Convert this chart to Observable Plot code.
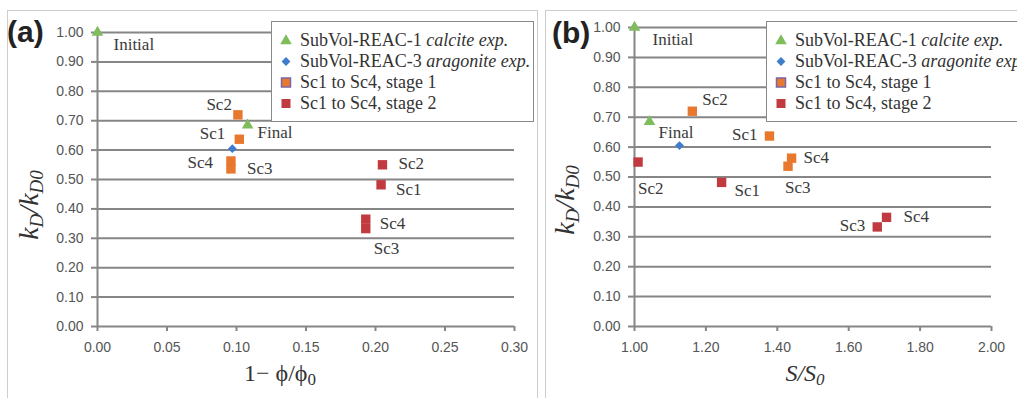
<!DOCTYPE html>
<html>
<head>
<meta charset="utf-8">
<script src="https://cdn.jsdelivr.net/npm/d3@7"></script>
<script src="https://cdn.jsdelivr.net/npm/@observablehq/plot@0.6"></script>
<style>
  body { margin: 0; background: #fff; }
  #chart { position: relative; width: 1017px; height: 398px; overflow: hidden; }
  .frame { position: absolute; border: 1.5px solid #cdcdcd; box-sizing: border-box; }
  .plot-holder { position: absolute; top: 0; }
  .legend {
    position: absolute; background: #fff; border: 1.5px solid #8a8a8a; box-sizing: border-box;
    font-family: "Liberation Serif", "Times New Roman", serif; font-size: 18px; color: #333;
    padding-top: 8px;
  }
  .legend .row { display: flex; align-items: center; height: 21px; white-space: nowrap; }
  .legend .row svg { flex: none; }
</style>
</head>
<body>
<div id="chart">
  <div class="frame" style="left:7px;top:10px;width:531px;height:400px"></div>
  <div class="frame" style="left:545px;top:10px;width:480px;height:400px"></div>
  <div class="plot-holder" id="panelA" style="left:0px"></div>
  <div class="plot-holder" id="panelB" style="left:545px"></div>
</div>
<script>
// Rate constant ratio kD/kD0 for the four scenarios, two stages each
const scenarios = ["Sc1", "Sc2", "Sc3", "Sc4"];
const stage1Kd = [0.637, 0.720, 0.536, 0.563];
const stage2Kd = [0.482, 0.550, 0.333, 0.365];
// 1 − φ/φ0 (porosity reduction)
const stage1Porosity = [0.102, 0.101, 0.096, 0.096];
const stage2Porosity = [0.204, 0.205, 0.193, 0.193];
// S/S0 (specific surface ratio)
const stage1Surface = [1.378, 1.162, 1.430, 1.440];
const stage2Surface = [1.244, 1.010, 1.680, 1.706];

// Experiments
const calciteStates = ["Initial", "Final"];
const calciteKd = [1.00, 0.685];
const calcitePorosity = [0.000, 0.108];
const calciteSurface = [1.000, 1.042];
const aragoniteKd = [0.605];
const aragonitePorosity = [0.097];
const aragoniteSurface = [1.126];

// Axis ticks
const yTicks = [0, 0.1, 0.2, 0.3, 0.4, 0.5, 0.6, 0.7, 0.8, 0.9, 1.0];
const xTicksA = [0, 0.05, 0.10, 0.15, 0.20, 0.25, 0.30];
const xTicksB = [1.0, 1.2, 1.4, 1.6, 1.8, 2.0];

// Legend entries
const legendItems = [
  {key: "calcite", name: "SubVol-REAC-1 ", note: "calcite exp."},
  {key: "aragonite", name: "SubVol-REAC-3 ", note: "aragonite exp."},
  {key: "stage1", name: "Sc1 to Sc4, stage 1", note: ""},
  {key: "stage2", name: "Sc1 to Sc4, stage 2", note: ""}
];

const colors = {calcite: "#7fbd5c", aragonite: "#3f7dcb", stage1: "#e9782f", stage2: "#c13a40"};
const gridColor = "#868686";
const labelColor = "#3a3a3a";
const serif = "Liberation Serif, Times New Roman, serif";

// Annotation offsets: [textAnchor, dx, dy] in order of the data rows
const placement = {
  a: {
    calcite: [["start", 16, 12], ["start", 10, 7]],
    stage1: [["end", -14, -6], ["end", -6, -10], ["start", 16, 0], ["end", -18, 2]],
    stage2: [["start", 15, 5], ["start", 16, -1], ["start", 8, 20], ["start", 14, 4]]
  },
  b: {
    calcite: [["start", 18, 12], ["start", 9, 11]],
    stage1: [["end", -12, -1], ["start", 10, -12], ["start", -3, 21], ["start", 12, -1]],
    stage2: [["start", 13, 8], ["start", 0, 26], ["end", -12, -1], ["start", 17, -1]]
  }
};

function rows(xs, ys, names) {
  return ys.map((y, i) => ({x: xs[i], y, name: names[i]}));
}

function buildPanel(cfg) {
  const calcite = rows(cfg.calciteX, calciteKd, calciteStates);
  const aragonite = rows(cfg.aragoniteX, aragoniteKd, ["Final"]);
  const stage1 = rows(cfg.stage1X, stage1Kd, scenarios);
  const stage2 = rows(cfg.stage2X, stage2Kd, scenarios);

  const labelMarks = [];
  const addLabels = (data, spots) => data.forEach((d, i) => {
    const [anchor, dx, dy] = spots[i];
    labelMarks.push(Plot.text([d], {
      x: "x", y: "y", text: "name", textAnchor: anchor, dx, dy,
      fill: labelColor, fontSize: 17, fontFamily: serif
    }));
  });
  addLabels(calcite, cfg.place.calcite);
  addLabels(stage1, cfg.place.stage1);
  addLabels(stage2, cfg.place.stage2);

  const fmt = d3.format(".2f");
  const plot = Plot.plot({
    width: cfg.width,
    height: 398,
    marginLeft: cfg.marginLeft,
    marginRight: cfg.marginRight,
    marginTop: cfg.marginTop,
    marginBottom: 72,
    x: {domain: cfg.xDomain, nice: false},
    y: {domain: [0, 1], nice: false},
    style: {background: "none", fontFamily: "Liberation Sans, Arial, sans-serif", fontSize: "14px", color: "#555", overflow: "visible"},
    marks: [
      Plot.ruleY(yTicks, {stroke: gridColor, strokeWidth: 2}),
      Plot.ruleX([cfg.xDomain[0]], {y1: 0, y2: 1, stroke: gridColor, strokeWidth: 2}),
      Plot.axisY({ticks: yTicks, tickFormat: fmt, tickSize: 6, tickPadding: 8, stroke: gridColor, strokeWidth: 2, label: null, fontSize: 14}),
      Plot.axisX({ticks: cfg.xTicks, tickFormat: fmt, tickSize: 5, tickPadding: 11, stroke: gridColor, strokeWidth: 2, label: null, fontSize: 14}),
      Plot.dot(stage1, {x: "x", y: "y", symbol: "square", r: 5.3, fill: colors.stage1}),
      Plot.dot(stage2, {x: "x", y: "y", symbol: "square", r: 5.3, fill: colors.stage2}),
      Plot.dot(aragonite, {x: "x", y: "y", symbol: "diamond2", r: 4, fill: colors.aragonite}),
      Plot.dot(calcite, {x: "x", y: "y", symbol: "triangle", r: 4.3, fill: colors.calcite}),
      ...labelMarks
    ]
  });

  const svg = d3.select(plot);
  // panel letter
  svg.append("text")
    .attr("x", 7).attr("y", cfg.letterY)
    .attr("text-anchor", "start")
    .attr("font-family", "Liberation Sans, Arial, sans-serif")
    .attr("font-weight", "bold").attr("font-size", 30).attr("fill", "#222")
    .text(cfg.letter);
  // y axis title kD/kD0
  const yt = svg.append("text")
    .attr("transform", `translate(${cfg.yTitleX},${cfg.yTitleY}) rotate(-90)`)
    .attr("text-anchor", "middle")
    .attr("font-family", serif)
    .attr("font-style", "italic").attr("font-size", 28).attr("fill", "#333");
  yt.append("tspan").text("k");
  yt.append("tspan").attr("font-size", 19).attr("dy", 5).text("D");
  yt.append("tspan").attr("dy", -5).text("/k");
  yt.append("tspan").attr("font-size", 19).attr("dy", 5).text("D0");
  // x axis title
  const xt = svg.append("text")
    .attr("x", cfg.xTitleX).attr("y", 381)
    .attr("text-anchor", "middle")
    .attr("font-family", serif)
    .attr("font-size", 24).attr("fill", "#333");
  cfg.xTitle(xt);
  return plot;
}

function legendBox(left) {
  const box = document.createElement("div");
  box.className = "legend";
  box.style.left = left + "px";
  box.style.top = "21px";
  box.style.width = "263px";
  box.style.height = "101px";
  for (const item of legendItems) {
    const row = document.createElement("div");
    row.className = "row";
    const s = d3.create("svg").attr("width", 28).attr("height", 21);
    if (item.key === "calcite") {
      s.append("path").attr("d", d3.symbol(d3.symbolTriangle, 4.3 * 4.3 * Math.PI)()).attr("transform", "translate(14,11)").attr("fill", colors.calcite);
    } else if (item.key === "aragonite") {
      s.append("path").attr("d", d3.symbol(d3.symbolDiamond2, 16 * Math.PI)()).attr("transform", "translate(14,10.5)").attr("fill", colors.aragonite);
    } else if (item.key === "stage1") {
      s.append("rect").attr("x", 9.5).attr("y", 6).attr("width", 9).attr("height", 9).attr("fill", colors.stage1).attr("stroke", "#7a66a8").attr("stroke-width", 1.5);
    } else {
      s.append("rect").attr("x", 9.5).attr("y", 6).attr("width", 9).attr("height", 9).attr("fill", colors.stage2);
    }
    row.appendChild(s.node());
    const t = document.createElement("span");
    t.textContent = item.name;
    if (item.note) {
      const it = document.createElement("i");
      it.textContent = item.note;
      t.appendChild(it);
    }
    row.appendChild(t);
    box.appendChild(row);
  }
  return box;
}

const plotA = buildPanel({
  width: 537, marginLeft: 97, marginRight: 23, marginTop: 32,
  xDomain: [0, 0.3], xTicks: xTicksA,
  calciteX: calcitePorosity, aragoniteX: aragonitePorosity,
  stage1X: stage1Porosity, stage2X: stage2Porosity,
  place: placement.a, letter: "(a)", letterY: 42,
  yTitleX: 38, yTitleY: 205, xTitleX: 280,
  xTitle: (t) => {
    t.append("tspan").text("1− ϕ/ϕ");
    t.append("tspan").attr("font-size", 17).attr("dy", 4).text("0");
  }
});

const plotB = buildPanel({
  width: 472, marginLeft: 89, marginRight: 26, marginTop: 27,
  xDomain: [1, 2], xTicks: xTicksB,
  calciteX: calciteSurface, aragoniteX: aragoniteSurface,
  stage1X: stage1Surface, stage2X: stage2Surface,
  place: placement.b, letter: "(b)", letterY: 43,
  yTitleX: 29, yTitleY: 200, xTitleX: 260,
  xTitle: (t) => {
    t.attr("font-style", "italic");
    t.append("tspan").text("S/S");
    t.append("tspan").attr("font-size", 17).attr("dy", 4).text("0");
  }
});

document.getElementById("panelA").appendChild(plotA);
document.getElementById("panelB").appendChild(plotB);
const chart = document.getElementById("chart");
chart.appendChild(legendBox(271));
chart.appendChild(legendBox(766));
</script>
</body>
</html>
